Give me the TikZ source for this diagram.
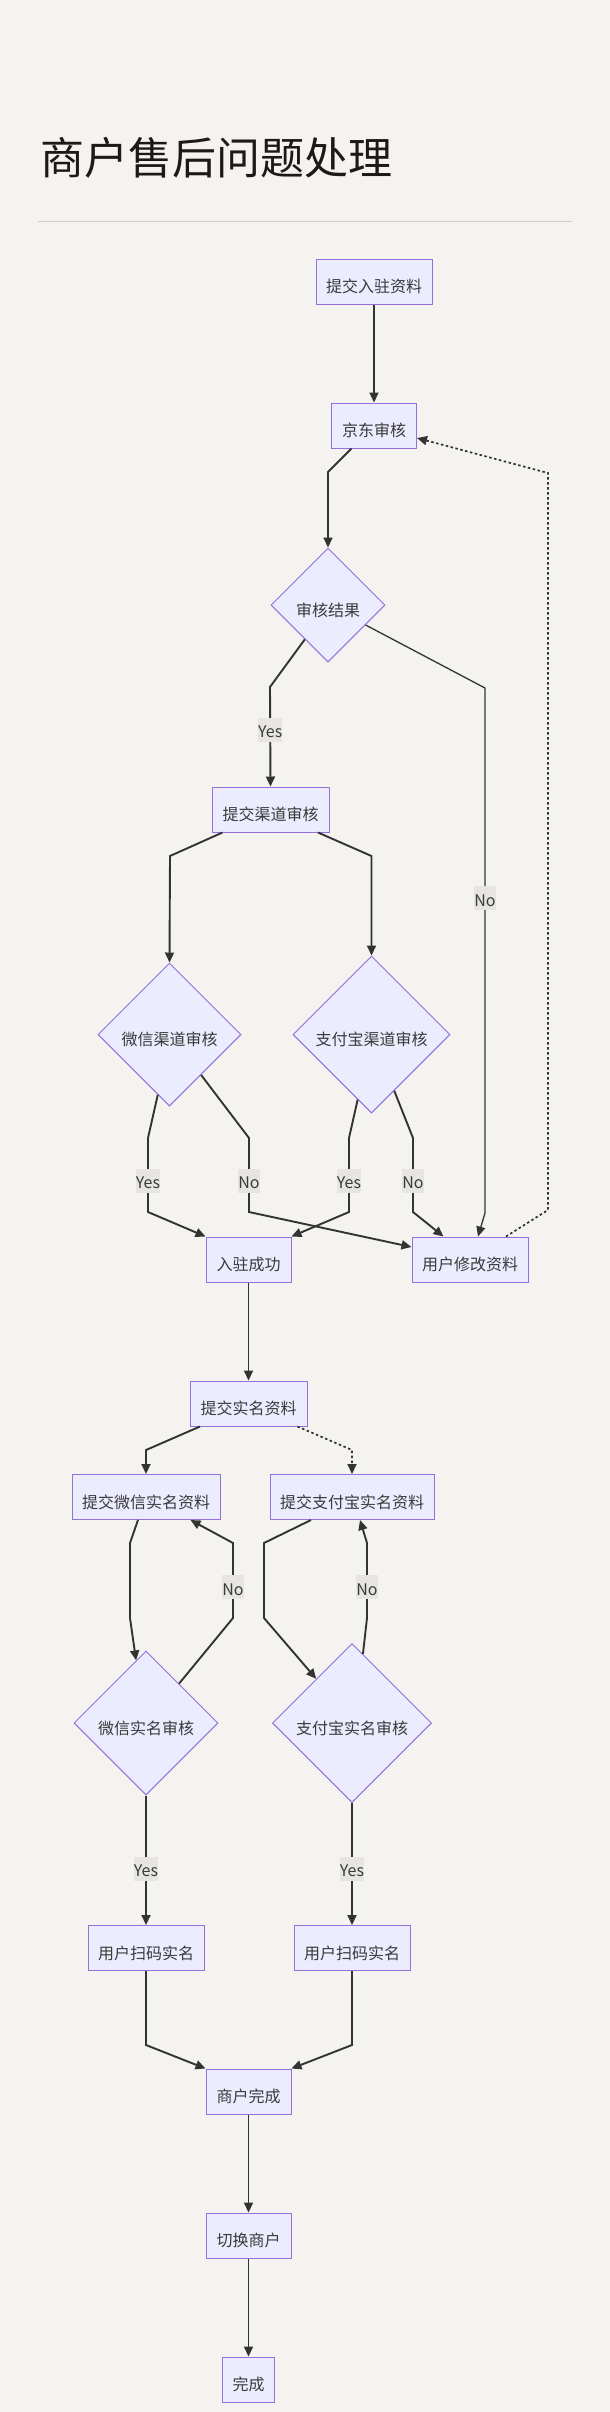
\documentclass[tikz,border=0pt]{standalone}
\usepackage{fontspec}
\newfontfamily\cjk{Noto Sans CJK SC}
\usetikzlibrary{shapes.geometric,arrows.meta}
\definecolor{bgcol}{HTML}{F4F3EF}
\definecolor{boxfill}{HTML}{ECECFF}
\definecolor{boxline}{HTML}{9370DB}
\definecolor{linkcol}{HTML}{333333}
\definecolor{lblfill}{HTML}{E6E5E2}
\definecolor{txtcol}{HTML}{3A3A3A}
\definecolor{titlecol}{HTML}{1C1A18}
\definecolor{rulecol}{HTML}{CFCDC8}
\tikzset{
  box/.style={draw=boxline, fill=boxfill, line width=1pt, minimum height=45pt, inner sep=0pt, text height=24pt, text depth=2pt},
  decision/.style={diamond, aspect=1, draw=boxline, fill=boxfill, line width=1pt, inner sep=0pt, text height=24pt, text depth=2pt, minimum width=#1, minimum height=#1},
  lbl/.style={fill=lblfill, inner sep=0pt, minimum height=24pt, text height=19pt, text depth=3pt},
  link/.style={draw=linkcol, line width=1.9pt},
  dots/.style={link, line width=1.7pt, dash pattern=on 2.5pt off 2.5pt}
}
\begin{document}
\begin{tikzpicture}[x=1pt, y=-1pt, >={Triangle[length=10pt,width=9pt]},
        every node/.style={font=\cjk\fontsize{16pt}{19pt}\selectfont, text=txtcol}]
        \fill[bgcol] (0,0) rectangle (610,2412);
        \useasboundingbox (0,0) rectangle (610,2412);
        \node [anchor=west, inner sep=0pt, text=titlecol, font=\cjk\fontsize{44pt}{50pt}\selectfont] (title) at (40,158) {商户售后问题处理};
        \draw[rulecol, line width=1pt] (38,221) -- (572,221);

        \node [box, minimum width=116pt] (1) at (374,281.5) {提交入驻资料};
        \node [box, minimum width=85pt] (2) at (374,425.5) {京东审核};
        \node [decision=114pt] (3) at (328,605) {审核结果};
        \node [box, minimum width=117pt] (4) at (270.5,809.5) {提交渠道审核};
        \node [decision=143pt] (5) at (169.5,1034.5) {微信渠道审核};
        \node [decision=157pt] (6) at (371.5,1034.5) {支付宝渠道审核};
        \node [box, minimum width=85pt] (7) at (248.5,1259.5) {入驻成功};
        \node [box, minimum width=116pt] (8) at (470,1259.5) {用户修改资料};
        \node [box, minimum width=117pt] (9) at (248.5,1403.5) {提交实名资料};
        \node [box, minimum width=148pt] (10) at (146,1497) {提交微信实名资料};
        \node [box, minimum width=164pt] (11) at (352,1497) {提交支付宝实名资料};
        \node [decision=144pt] (12) at (146,1723) {微信实名审核};
        \node [decision=159pt] (13) at (352,1723) {支付宝实名审核};
        \node [box, minimum width=116pt] (14) at (146,1948) {用户扫码实名};
        \node [box, minimum width=116pt] (15) at (352,1948) {用户扫码实名};
        \node [box, minimum width=85pt] (16) at (248.5,2091.5) {商户完成};
        \node [box, minimum width=85pt] (17) at (248.5,2235.5) {切换商户};
        \node [box, minimum width=52pt] (18) at (248.5,2379.5) {完成};

        \draw[link, ->] (1) -- (2);
        \draw[link, ->] ([xshift=-22.5pt]2.south) -- (328,472) -- (3.north);
        \draw[link, ->] (3.236) -- (270,687) -- node [lbl, pos=.43] {Yes} (4.north);
        \draw[link, ->, line width=1.3pt] (3.-28) -- (485,688) -- node [lbl, pos=.4] {No} (485,1213) -- ([xshift=8pt]8.north);
        \draw[link, ->] ([xshift=-48pt]4.south) -- (170,856) -- (5.north);
        \draw[link, ->] ([xshift=47.5pt]4.south) -- (371.5,856) -- (6.north);
        \draw[link, ->] (5.259) -- (148,1138) -- node [lbl, pos=.58] {Yes} (148,1212) -- (7.north west);
        \draw[link, ->] (5.-52) -- (249,1138) -- node [lbl, pos=.58] {No} (249,1212) -- ([yshift=12.5pt]8.west);
        \draw[link, ->] (6.258) -- (349,1138) -- node [lbl, pos=.58] {Yes} (349,1212) -- (7.north east);
        \draw[link, ->] (6.-68) -- (413,1138) -- node [lbl, pos=.58] {No} (413,1212) -- ([xshift=-26.5pt]8.north);
        \draw[dots, ->] ([xshift=36pt]8.north) -- (548,1210) -- (548,473) -- ([yshift=-12.5pt]2.east);
        \draw[link, ->] (7) -- (9);
        \draw[link, ->] ([xshift=-48.5pt]9.south) -- (146,1450) -- (10.north);
        \draw[dots, ->] ([xshift=49pt]9.south) -- (352,1450) -- (11.north);
        \draw[link, ->] ([xshift=-8pt]10.south) -- (130,1543) -- (130,1618) -- (12.99);
        \draw[link, ->] (12.50) -- (233,1618) -- node [lbl, pos=.41] {No} (233,1543) -- ([xshift=44.5pt]10.south);
        \draw[link, ->] ([xshift=-41pt]11.south) -- (264,1543) -- (264,1618) -- (13.129);
        \draw[link, ->] (13.81) -- (367,1618) -- node [lbl, pos=.41] {No} (367,1543) -- ([xshift=8pt]11.south);
        \draw[link, ->] (12) -- node [lbl, pos=.565] {Yes} (14);
        \draw[link, ->] (13) -- node [lbl, pos=.54] {Yes} (15);
        \draw[link, ->] (14.south) -- (146,2045) -- (16.north west);
        \draw[link, ->] (15.south) -- (352,2045) -- (16.north east);
        \draw[link, ->] (16) -- (17);
        \draw[link, ->] (17) -- (18);
      \end{tikzpicture}
\end{document}
